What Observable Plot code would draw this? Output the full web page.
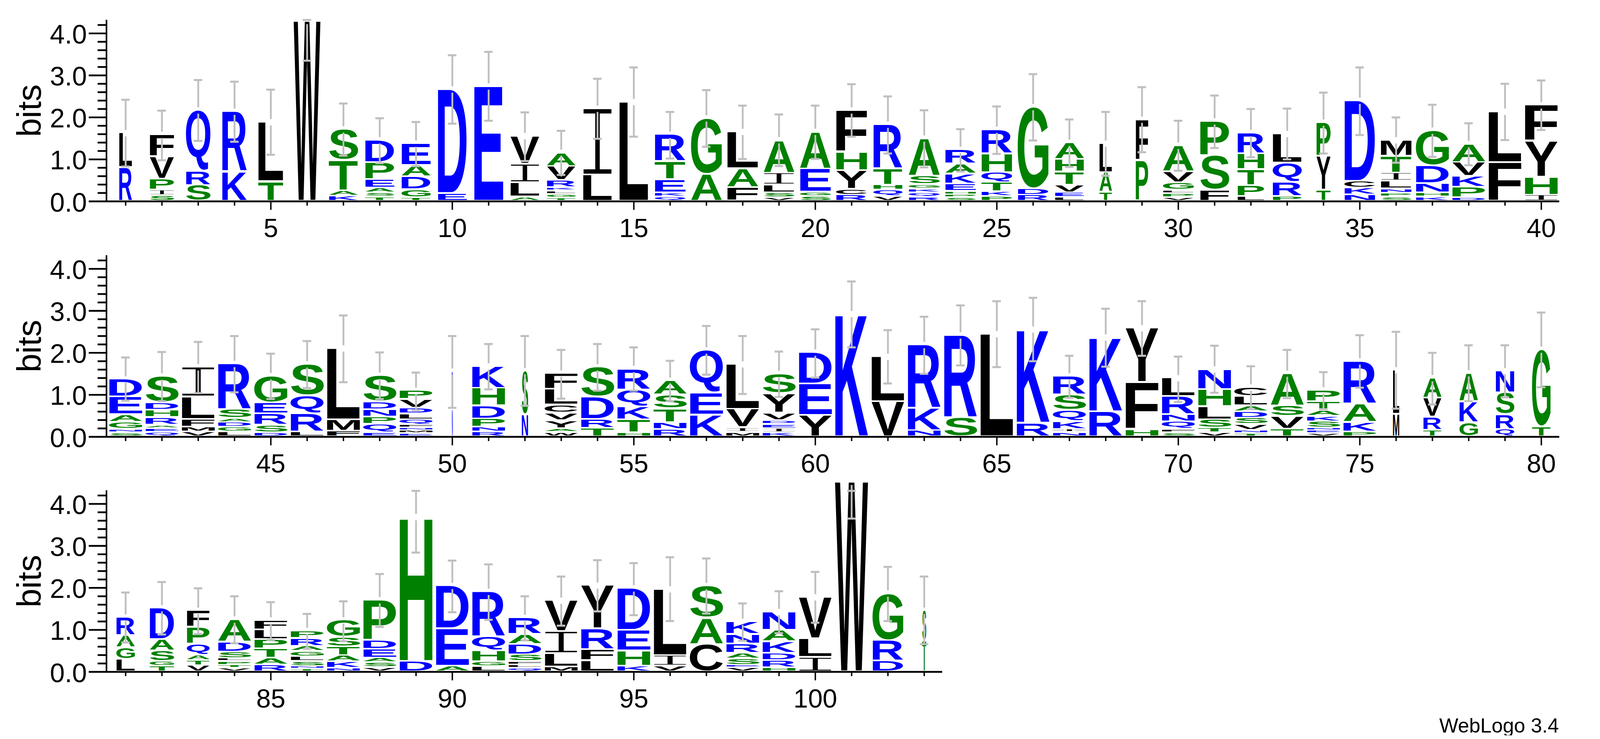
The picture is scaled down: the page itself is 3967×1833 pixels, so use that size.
<!DOCTYPE html>
<html>
<head>
<meta charset="utf-8">
<script src="https://cdn.jsdelivr.net/npm/d3@7"></script>
<script src="https://cdn.jsdelivr.net/npm/@observablehq/plot@0.6"></script>
<style>
html,body{margin:0;padding:0;background:#fff;}
svg{display:block;}
#credit{font-family:"Liberation Sans";font-size:50px;line-height:48px;text-align:right;padding-right:102px;color:#000;}
</style>
</head>
<body>
<div id="chart"></div>
<div id="credit">WebLogo 3.4</div>
<script>
const letters1 = ["RL","SIPVF","SRQ","KR","TL","W","KATS","TSAEPD","TGDAE","ED","E","ALIV","TGLKRVA","LI","L","QKETR","AG","FAL","VSLIA","SGEA","RCYHF","VQHTR","RQKGSA","SPHEKAR","PKTQHR","RDG","LEVTHA","TAL","PF","VPLGVA","FSP","LPTHR","PRQL","TYP","NKCD","SPNLITM","KHNDG","DPKVA","FL","IHYF"];
const tops1 = [[.80,1.62],[.13,.26,.52,1.05,1.58],[.37,.71,2.16],[.70,2.13],[.46,1.88],[4.29],[.12,.24,.97,1.71],[.10,.20,.31,.51,.92,1.45],[.08,.27,.58,.85,1.37],[.18,2.66],[2.73],[.10,.44,.88,1.55],[.07,.16,.24,.32,.49,.82,1.15],[.62,2.20],[2.36],[.10,.20,.51,.94,1.58],[.64,1.97],[.32,.77,1.65],[.08,.20,.38,.67,1.45],[.11,.21,.76,1.65],[.14,.28,.72,1.16,2.16],[.11,.26,.38,.77,1.82],[.09,.20,.29,.39,.59,1.49],[.08,.15,.23,.41,.65,.89,1.22],[.11,.22,.44,.68,1.13,1.70],[.14,.29,2.24],[.09,.20,.38,.69,.99,1.39],[.21,.68,1.37],[.96,1.94],[.08,.18,.26,.44,.70,1.32],[.26,1.08,1.90],[.11,.37,.75,1.13,1.62],[.11,.45,.91,1.60],[.26,1.06,1.87],[.15,.31,.47,2.39],[.10,.19,.29,.48,.67,1.07,1.45],[.10,.20,.42,.84,1.68],[.08,.33,.59,.92,1.36],[.92,2.13],[.14,.57,1.42,2.28]];
const errHigh1 = [2.42,2.16,2.89,2.85,2.66,4.32,2.33,1.98,1.89,3.48,3.56,2.12,1.68,2.92,3.19,2.13,2.65,2.28,2.07,2.28,2.79,2.50,2.17,1.72,2.26,3.03,1.95,2.13,2.72,1.92,2.52,2.20,2.21,2.59,3.19,2.00,2.30,1.86,2.80,2.88];
const errLow1 = [.83,.98,1.44,1.42,1.11,3.35,1.09,.91,.84,1.85,1.92,.96,.63,1.49,1.54,1.02,1.30,1.01,.84,1.01,1.54,1.14,.81,.71,1.13,1.45,.82,.61,1.17,.73,1.27,1.05,1.00,1.14,1.58,.92,1.06,.86,1.46,1.70];
const widths1 = [.39,.74,.74,.75,.76,.81,.88,.88,.88,.88,.88,.88,.87,.88,.88,.93,.93,.94,.93,.93,.94,.88,.94,.93,.93,.93,.88,.38,.38,.93,.88,.81,.88,.43,.93,.93,1,1,1,1];

const letters2 = ["SNGAED","QEARHDS","VMFLI","LGDASR","DSREG","LRQS","FML","EQPNDS","EMNFQLDVP","ND","RNPDHK","NS","WAYVCLF","TRDS","HTKQR","RNTSA","KEQ","MIVL","KIEDVYS","YED","K","VL","NKR","SR","L","RK","NIKQSR","RK","HFY","SFQNRL","VTSLHN","TNVSDALC","TVSA","VENSKATP","PKAR","ML","TRVA","GKA","QRSN","TG"];
const tops2 = [[.09,.17,.34,.52,.94,1.36],[.10,.19,.27,.45,.63,.81,1.43],[.11,.22,.41,.94,1.65],[.11,.22,.33,.43,.65,1.73],[.09,.27,.54,.80,1.44],[.11,.54,.97,1.72],[.13,.40,2.10],[.09,.29,.46,.64,.83,1.45],[.07,.14,.20,.27,.40,.54,.68,.88,1.09],[.65,1.55],[.11,.22,.42,.73,1.15,1.67],[.52,1.56],[.10,.19,.38,.56,.75,1.12,1.50],[.20,.41,.94,1.65],[.09,.40,.71,1.11,1.61],[.17,.33,.66,.99,1.33],[.51,1.03,2.05],[.10,.21,.65,1.72],[.09,.19,.29,.38,.56,1.02,1.49],[.50,1.25,2.00],[2.92],[.83,1.90],[.14,.68,2.18],[.45,2.41],[2.44],[.32,2.55],[.10,.17,.36,.62,.99,1.43],[.59,2.36],[.16,1.29,2.58],[.09,.17,.35,.52,.95,1.39],[.09,.20,.40,.71,1.12,1.60],[.07,.15,.29,.44,.59,.73,.95,1.17],[.18,.48,.73,1.50],[.07,.14,.20,.35,.48,.62,.83,1.10],[.11,.34,.78,1.79],[.53,1.58],[.15,.46,.92,1.39],[.33,.83,1.51],[.17,.52,1.04,1.56],[.23,2.07]];
const errHigh2 = [1.89,2.02,2.26,2.40,1.98,2.28,2.89,2.01,1.53,2.40,2.21,2.40,2.07,2.21,2.13,1.81,2.64,2.40,2.03,2.56,3.70,2.54,2.86,3.13,3.23,3.31,1.93,3.05,3.23,1.91,2.17,1.68,2.07,1.54,2.42,2.50,2.00,2.18,2.18,2.96];
const errLow2 = [.86,.85,1.04,1.06,.90,1.16,1.30,.90,.63,.69,1.13,.74,.91,1.10,1.10,.85,1.48,1.02,.95,1.41,2.13,1.27,1.50,1.70,1.66,1.80,.93,1.67,1.93,.83,1.05,.66,.92,.66,1.17,.67,.77,.85,.94,1.18];
const widths2 = [1,1,1,1,1,1,1,1,1,.03,1,.19,1,1,1,1,1,1,1,1,1,1,1,1,1,1,1,1,1,1,1,1,1,1,1,.19,.55,.56,.56,.56];

const letters3 = ["LGAR","TGSAD","VTAQPF","VTPLSDA","RATPLF","TNSLGARP","NKATSG","VSAEDP","DH","AED","LGHQR","QLFSDAR","MLIV","LFRY","KHED","VIL","CAS","VESARNK","HRDKAN","ILV","W","DRG","TS"];
const tops3 = [[.29,.57,.86,1.29],[.13,.24,.49,.76,1.51],[.14,.26,.39,.65,1.05,1.45],[.08,.15,.24,.31,.46,.70,1.24],[.16,.32,.54,.76,.99,1.22],[.06,.12,.24,.35,.48,.60,.79,.97],[.08,.23,.38,.59,.82,1.22],[.10,.21,.32,.53,.74,1.70],[.24,3.68],[.13,1.02,2.04],[.12,.23,.49,.83,1.90],[.08,.16,.24,.40,.65,.89,1.28],[.11,.43,.95,1.69],[.26,.52,1.02,2.05],[.13,.49,.98,1.98],[.13,.38,1.96],[.65,1.28,2.04],[.09,.15,.30,.44,.66,.89,1.19],[.09,.26,.44,.71,.98,1.42],[.34,.78,1.77],[4.52],[.25,.74,1.86],[.73,1.45]];
const errHigh3 = [1.89,2.14,1.99,1.80,1.66,1.38,1.68,2.33,4.31,2.65,2.56,1.80,2.27,2.66,2.59,2.73,2.70,1.63,1.92,2.38,4.31,2.50,2.27];
const errLow3 = [.70,.89,.90,.68,.76,.55,.73,1.07,2.84,1.42,1.24,.75,1.10,1.44,1.35,1.21,1.39,.74,.92,1.17,3.65,1.21,.66];
const widths3 = [.56,.74,.69,1,1,1,1,1,1,1,1,1,1,1,1,1,1,1,1,1,1,.93,.12];

const blueLetters = "DEKNQR";
const greenLetters = "AGHPST";
const letterColor = c => blueLetters.includes(c) ? "#0000ff" : greenLetters.includes(c) ? "#008000" : "#000000";
const sansFont = '"Liberation Sans"';
const iFont = '"Liberation Mono"';
const iErode = 1.7; // white outline thins the slab "I" toward the reference's lighter stem
const measure = document.createElement("canvas").getContext("2d");

function inkBox(letter) {
  measure.font = letter === "I" ? `100px ${iFont}` : `bold 100px ${sansFont}`;
  const m = measure.measureText(letter);
  const e = letter === "I" ? iErode : 0;
  return {left: -m.actualBoundingBoxLeft + e, right: m.actualBoundingBoxRight - e, up: m.actualBoundingBoxAscent - e, down: m.actualBoundingBoxDescent - e};
}

function glyphs(data) {
  const fullWidth = 0.915, base = 0.035, gap = 0.04;
  return Plot.text(data, {
    x: "pos", y: "top", text: "letter", fill: "color",
    fontFamily: sansFont, fontWeight: "bold", fontSize: 100, textAnchor: "start",
    render(index, scales, values, dims, ctx, next) {
      const g = next(index, scales, values, dims, ctx);
      d3.select(g).selectAll("text").each(function () {
        const d = data[d3.select(this).datum()];
        const half = d.width * fullWidth / 2;
        const x0 = scales.x(d.pos - half), x1 = scales.x(d.pos + half);
        const yb = scales.y(d.prev === null ? base : d.prev + gap), yt = scales.y(d.top);
        const box = inkBox(d.letter);
        const sx = (x1 - x0) / (box.right - box.left);
        const sy = (yb - yt) / (box.up + box.down);
        const t = d3.select(this)
          .attr("y", 0).attr("dy", null)
          .attr("transform", `translate(${x0 - box.left * sx},${yb - box.down * sy}) scale(${sx},${sy})`);
        if (d.letter === "I") t.attr("font-family", iFont).attr("font-weight", "normal").attr("stroke", "#fff").attr("stroke-width", iErode * 2);
      });
      return g;
    }
  });
}

function row(first, letters, tops, errLow, errHigh, widths, height, marginTop) {
  const data = [], lower = [], upper = [], caps = [];
  const halfGap = 0.075, capHalf = 0.117;
  letters.forEach((s, i) => {
    const pos = first + i;
    [...s].forEach((c, j) => data.push({pos, letter: c, top: tops[i][j], prev: j ? tops[i][j - 1] : null, width: widths[i], color: letterColor(c)}));
    const total = tops[i][tops[i].length - 1];
    lower.push({pos, y1: errLow[i], y2: total - halfGap});
    if (errHigh[i] > total + halfGap) upper.push({pos, y1: total + halfGap, y2: errHigh[i]});
    caps.push({pos, y: errLow[i]}, {pos, y: errHigh[i]});
  });
  // the outlined "I" glyphs go first so neighbouring letters paint over their white edge
  data.sort((a, b) => (b.letter === "I") - (a.letter === "I"));
  const last = first + letters.length - 1;
  const all = d3.range(first, last + 1);
  const major = all.filter(v => v % 5 === 0);
  const minor = all.filter(v => v % 5 !== 0);
  const yMajor = [0, 1, 2, 3, 4];
  const yMinor = d3.range(0, 22).map(v => v / 5).filter(v => !Number.isInteger(v) && v <= 4.32);
  return Plot.plot({
    width: 3967, height, marginTop, marginBottom: 110, marginLeft: 266, marginRight: 101,
    style: {fontFamily: sansFont, background: "#fff", color: "#000"},
    x: {domain: [first - 0.5, first + 39.5], axis: null},
    y: {domain: [0, 4.32], axis: null},
    color: {type: "identity"},
    marks: [
      glyphs(data),
      Plot.ruleX(lower, {x: "pos", y1: "y1", y2: "y2", stroke: "#bfbfbf", strokeWidth: 4.5}),
      Plot.ruleX(upper, {x: "pos", y1: "y1", y2: "y2", stroke: "#bfbfbf", strokeWidth: 4.5}),
      Plot.ruleY(caps, {y: "y", x1: d => d.pos - capHalf, x2: d => d.pos + capHalf, stroke: "#bfbfbf", strokeWidth: 5}),
      Plot.axisY({ticks: yMinor, tickSize: 24, strokeWidth: 4.4, fill: "none", label: null}),
      Plot.axisY({ticks: yMajor, tickSize: 46, strokeWidth: 4.4, fill: "none", label: null}),
      Plot.axisY({ticks: yMajor, tickSize: 46, stroke: "none", tickPadding: 5, dy: 4, tickFormat: ".1f", fontSize: 66, label: null}),
      Plot.axisX({ticks: minor, tickSize: 11, strokeWidth: 3.5, fill: "none", label: null}),
      Plot.axisX({ticks: major, tickSize: 21.5, strokeWidth: 3.5, tickPadding: 21, tickFormat: "d", fontSize: 65, label: null}),
      Plot.ruleX([first - 0.5], {y1: -0.02, y2: 4.32, strokeWidth: 4, dx: -2.5}),
      Plot.ruleY([0], {x1: first - 0.5, x2: last + 0.5, strokeWidth: 4.4}),
      Plot.text(["bits"], {text: d => d, frameAnchor: "left", rotate: -90, dx: -166, fontSize: 84, textAnchor: "middle", lineAnchor: "bottom"})
    ]
  });
}

const chart = document.getElementById("chart");
chart.append(
  row(1, letters1, tops1, errLow1, errHigh1, widths1, 609, 49),
  row(41, letters2, tops2, errLow2, errHigh2, widths2, 584, 24),
  row(81, letters3, tops3, errLow3, errHigh3, widths3, 583, 23)
);
</script>
</body>
</html>
